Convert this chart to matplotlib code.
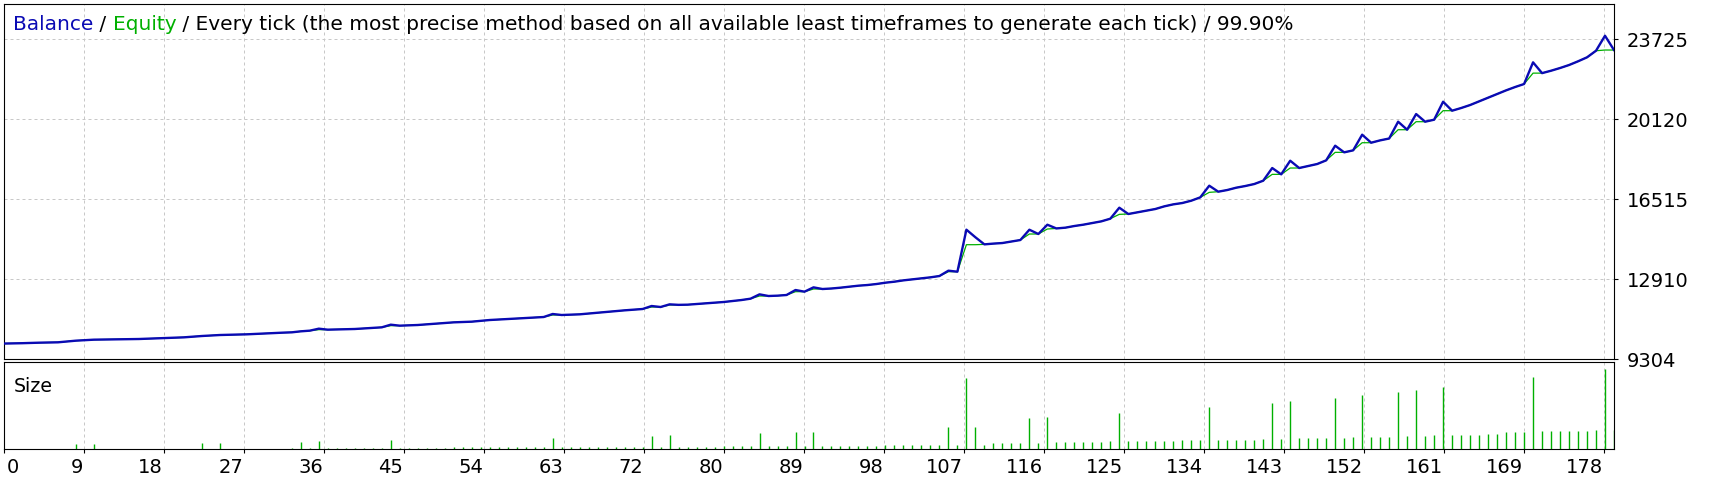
import matplotlib.pyplot as plt

# balance after each trade (trade 0 = deposit)
balance = [
    10000, 10008, 10016, 10030, 10040, 10048, 10056, 10092, 10130, 10152,
    10175, 10180, 10184, 10187, 10191, 10205, 10220, 10235, 10250, 10265,
    10280, 10310, 10340, 10362, 10385, 10395, 10405, 10416, 10436, 10456,
    10476, 10491, 10506, 10551, 10581, 10671, 10626, 10636, 10646, 10656,
    10680, 10701, 10731, 10851, 10806, 10821, 10836, 10866, 10896, 10926,
    10956, 10971, 10986, 11024, 11061, 11085, 11106, 11128, 11151, 11173,
    11196, 11332, 11287, 11302, 11317, 11354, 11392, 11429, 11467, 11497,
    11527, 11557, 11692, 11647, 11767, 11744, 11752, 11782, 11812, 11842,
    11872, 11917, 11962, 12022, 12218, 12143, 12158, 12188, 12413, 12338,
    12533, 12458, 12481, 12518, 12563, 12608, 12638, 12683, 12743, 12788,
    12848, 12893, 12939, 12984, 13044, 13284, 13239, 15132, 14790, 14470,
    14504, 14530, 14598, 14666, 15130, 14937, 15356, 15188, 15222, 15297,
    15357, 15432, 15507, 15627, 16123, 15838, 15913, 15988, 16063, 16183,
    16273, 16333, 16438, 16588, 17114, 16844, 16919, 17024, 17099, 17189,
    17339, 17911, 17625, 18240, 17911, 18001, 18091, 18256, 18917, 18617,
    18707, 19412, 19051, 19157, 19240, 19998, 19637, 20344, 19998, 20088,
    20899, 20494, 20614, 20749, 20914, 21080, 21245, 21410, 21560, 21696,
    22673, 22187, 22295, 22417, 22552, 22719, 22899, 23196, 23872, 23228,
]

# equity only where it differs from balance
equity_trades = [35, 43, 61, 72, 74, 84, 88, 90, 105, 107, 108, 114, 116, 124,
                 134, 141, 143, 148, 151, 155, 157, 160, 170, 178]
equity_values = [10626, 10806, 11287, 11647, 11737, 12143, 12338, 12458, 13239,
                 14455, 14455, 14937, 15162, 15823, 16814, 17625, 17911, 18617,
                 19051, 19637, 19998, 20494, 22187, 23228]

# lot size per trade
sizes = [
    0, 0, 0, 0, 0, 0, 0, 0, 0.05, 0,
    0.05, 0, 0, 0, 0, 0, 0, 0, 0, 0,
    0, 0, 0.06, 0, 0.06, 0, 0, 0, 0, 0,
    0, 0, 0.01, 0.07, 0.01, 0.08, 0.01, 0.01, 0.01, 0.01,
    0.01, 0.01, 0.01, 0.09, 0.01, 0.01, 0.01, 0.01, 0.01, 0.01,
    0.02, 0.02, 0.02, 0.02, 0.02, 0.02, 0.02, 0.02, 0.02, 0.02,
    0.02, 0.11, 0.02, 0.02, 0.02, 0.02, 0.02, 0.02, 0.02, 0.02,
    0.02, 0.02, 0.13, 0.02, 0.14, 0.02, 0.02, 0.02, 0.02, 0.02,
    0.03, 0.03, 0.03, 0.03, 0.16, 0.03, 0.03, 0.03, 0.17, 0.03,
    0.17, 0.03, 0.03, 0.03, 0.03, 0.03, 0.03, 0.03, 0.04, 0.04,
    0.04, 0.04, 0.04, 0.04, 0.04, 0.22, 0.04, 0.71, 0.22, 0.04,
    0.06, 0.06, 0.06, 0.06, 0.31, 0.06, 0.32, 0.07, 0.07, 0.07,
    0.07, 0.07, 0.07, 0.08, 0.36, 0.08, 0.08, 0.08, 0.08, 0.08,
    0.08, 0.09, 0.09, 0.09, 0.42, 0.09, 0.09, 0.09, 0.09, 0.09,
    0.10, 0.46, 0.10, 0.48, 0.11, 0.11, 0.11, 0.11, 0.51, 0.11,
    0.12, 0.54, 0.12, 0.12, 0.12, 0.57, 0.13, 0.59, 0.13, 0.14,
    0.62, 0.14, 0.14, 0.14, 0.14, 0.15, 0.15, 0.17, 0.17, 0.17,
    0.72, 0.18, 0.18, 0.18, 0.18, 0.18, 0.18, 0.19, 0.80, 0.19,
]

x_tick_labels = ['0', '9', '18', '27', '36', '45', '54', '63', '72', '80', '89',
                 '98', '107', '116', '125', '134', '143', '152', '161', '169', '178']
y_tick_values = [9304, 12910, 16515, 20120, 23725]

BLUE = '#0a0ab4'
GREEN = '#00b000'
GRID = '#c8c8c8'
W, H = 1719, 485

equity = list(balance)
for t, v in zip(equity_trades, equity_values):
    equity[t] = v
trades = list(range(len(balance)))
n = len(balance) - 1


def fx(px):
    return px / W


def fy(py):
    return 1 - py / H


fig = plt.figure(figsize=(W / 100, H / 100), dpi=100)
fig.patch.set_facecolor('white')

left, right = 4, 1614
ax = fig.add_axes([fx(left), fy(360), fx(right) - fx(left), fy(5) - fy(360)])
axs = fig.add_axes([fx(left), fy(450), fx(right) - fx(left), fy(363) - fy(450)])

# grid every 80 px like the terminal does
step = n * 80 / (right - left)
tick_pos = [k * step for k in range(len(x_tick_labels))]
ypp = (y_tick_values[-1] - y_tick_values[0]) / 320

for a in (ax, axs):
    a.set_xlim(0, n)
    for s in a.spines.values():
        s.set_linewidth(0.8)
        s.set_color('black')
    for xp in tick_pos[1:]:
        a.axvline(xp, color=GRID, lw=0.72, ls=(0, (3, 3)), zorder=0)

# main panel
ax.set_ylim(y_tick_values[0], y_tick_values[0] + 355 * ypp)
for yv in y_tick_values[1:]:
    ax.axhline(yv, color=GRID, lw=0.72, ls=(0, (3, 3)), zorder=0)
ax.plot(trades, equity, color=GREEN, lw=0.9, zorder=2)
ax.plot(trades, balance, color=BLUE, lw=1.7, zorder=3)
ax.set_xticks([])
ax.yaxis.tick_right()
ax.set_yticks(y_tick_values)
ax.set_yticklabels([str(v) for v in y_tick_values], fontsize=14)
ax.tick_params(axis='y', length=3, width=0.8, pad=6)

# title, coloured pieces placed one after another
pieces = [('Balance', BLUE), (' / ', 'black'), ('Equity', GREEN),
          (' / Every tick (the most precise method based on all available least '
           'timeframes to generate each tick) / 99.90%', 'black')]
txt = fig.text(fx(13), fy(34), pieces[0][0], color=pieces[0][1], fontsize=14.5,
               va='bottom', ha='left')
for s, c in pieces[1:]:
    txt = ax.annotate(s, xy=(1, 0), xycoords=txt, color=c, fontsize=14.5,
                      va='bottom', ha='left', annotation_clip=False)

# size panel
axs.set_ylim(0, 0.87)
axs.vlines(trades, 0, sizes, color=GREEN, lw=1.0, zorder=2)
axs.set_yticks([])
axs.set_xticks(tick_pos)
axs.set_xticklabels([])
axs.tick_params(axis='x', length=3, width=0.8)
fig.text(fx(14), fy(392), 'Size', fontsize=13.7, va='baseline', ha='left')
for xp, lab in zip(tick_pos, x_tick_labels):
    axs.annotate(lab, xy=(xp, 0), xycoords=('data', 'axes fraction'),
                 xytext=(3 if lab == '0' else -1, -18), textcoords='offset pixels',
                 ha='left' if lab == '0' else 'right', va='center', fontsize=14,
                 annotation_clip=False)

fig.savefig('out.png', dpi=100)
